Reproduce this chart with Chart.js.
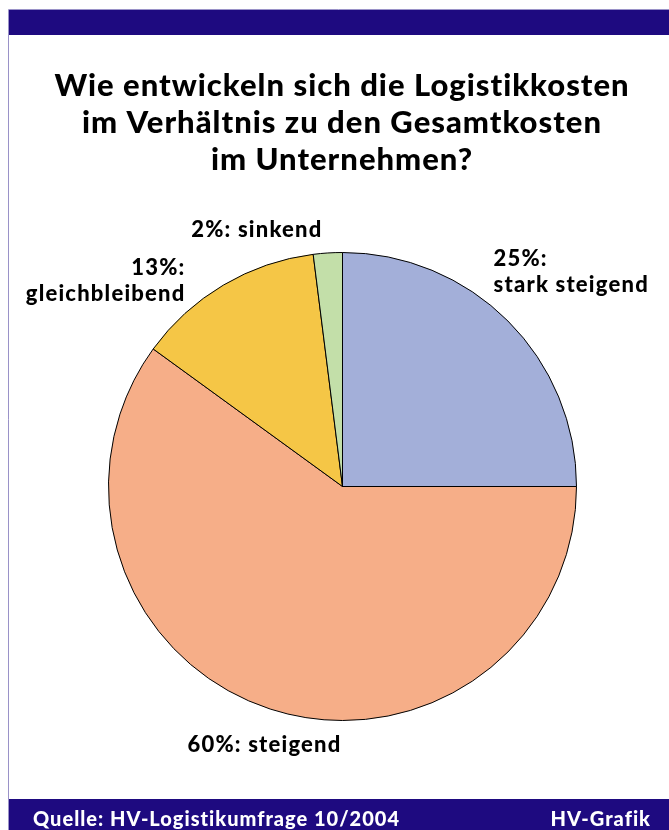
<!DOCTYPE html>
<html>
<head>
<meta charset="utf-8">
<script src="https://cdn.jsdelivr.net/npm/chart.js@4"></script>
<style>
  html, body { margin: 0; padding: 0; background: #fff; }
  canvas { display: block; }
</style>
</head>
<body>
<canvas id="pie" width="669" height="830"></canvas>
<script>
const categories = ['stark steigend', 'steigend', 'gleichbleibend', 'sinkend']
const shares = [25, 60, 13, 2]
const sliceColors = ['#A3AFD9', '#F6AE88', '#F5C646', '#C3DFA9']
const titleLines = ['Wie entwickeln sich die Logistikkosten', 'im Verhältnis zu den Gesamtkosten', 'im Unternehmen?']
const sourceText = 'Quelle: HV-Logistikumfrage 10/2004'
const creditText = 'HV-Grafik'

// label placement relative to pie centre: [dx, dy of first baseline, align, split into two lines]
const labelLayout = [
  [151, -221, 'left', true],
  [-155, 265, 'left', false],
  [-157, -212, 'right', true],
  [-20, -250, 'right', false]
]

const FONT = 'Lato, "DejaVu Sans", sans-serif'
const NAVY = '#1E0A80'

const frame = {
  id: 'frame',
  beforeDraw(chart) {
    const ctx = chart.ctx
    const w = chart.width, h = chart.height
    ctx.save()
    ctx.fillStyle = '#fff'
    ctx.fillRect(0, 0, w, h)
    // thin outline
    ctx.strokeStyle = '#9A92C8'
    ctx.lineWidth = 1
    ctx.beginPath()
    ctx.moveTo(8.5, h)
    ctx.lineTo(8.5, 9.5)
    ctx.lineTo(w, 9.5)
    ctx.stroke()
    // top and bottom bars
    ctx.fillStyle = NAVY
    ctx.fillRect(9, 10, w - 9, 25)
    ctx.fillRect(9, 799, w - 9, h - 799)
    ctx.fillStyle = '#fff'
    ctx.font = '900 20px ' + FONT
    ctx.letterSpacing = '1px'
    ctx.textBaseline = 'alphabetic'
    ctx.textAlign = 'left'
    ctx.fillText(sourceText, 33, 826)
    ctx.textAlign = 'right'
    ctx.fillText(creditText, 651, 826)
    // title
    ctx.fillStyle = '#000'
    ctx.textAlign = 'left'
    ctx.font = '900 31px ' + FONT
    titleLines.forEach((t, i) => {
      const tw = ctx.measureText(t).width
      ctx.fillText(t, 342 - tw / 2, 96 + i * 37)
    })
    ctx.restore()
  },
  afterDraw(chart) {
    const ctx = chart.ctx
    const arcs = chart.getDatasetMeta(0).data
    ctx.save()
    ctx.fillStyle = '#000'
    ctx.font = '900 22px ' + FONT
    ctx.letterSpacing = '1.2px'
    ctx.textBaseline = 'alphabetic'
    ctx.textAlign = 'left'
    arcs.forEach((arc, i) => {
      const [dx, dy, align, split] = labelLayout[i]
      const head = shares[i] + '%:'
      const lines = split ? [head, categories[i]] : [head + ' ' + categories[i]]
      lines.forEach((t, j) => {
        const tw = ctx.measureText(t).width
        const x = align === 'right' ? arc.x + dx - tw : arc.x + dx
        ctx.fillText(t, x, arc.y + dy + j * 26)
      })
    })
    ctx.restore()
  }
}

new Chart(document.getElementById('pie'), {
  type: 'pie',
  data: {
    labels: categories,
    datasets: [{
      data: shares,
      backgroundColor: sliceColors,
      borderColor: '#000',
      borderWidth: 1
    }]
  },
  options: {
    responsive: false,
    animation: false,
    devicePixelRatio: 1,
    layout: { padding: { left: 108, right: 92, top: 252, bottom: 109 } },
    plugins: {
      legend: { display: false },
      tooltip: { enabled: false }
    }
  },
  plugins: [frame]
})
</script>
</body>
</html>
